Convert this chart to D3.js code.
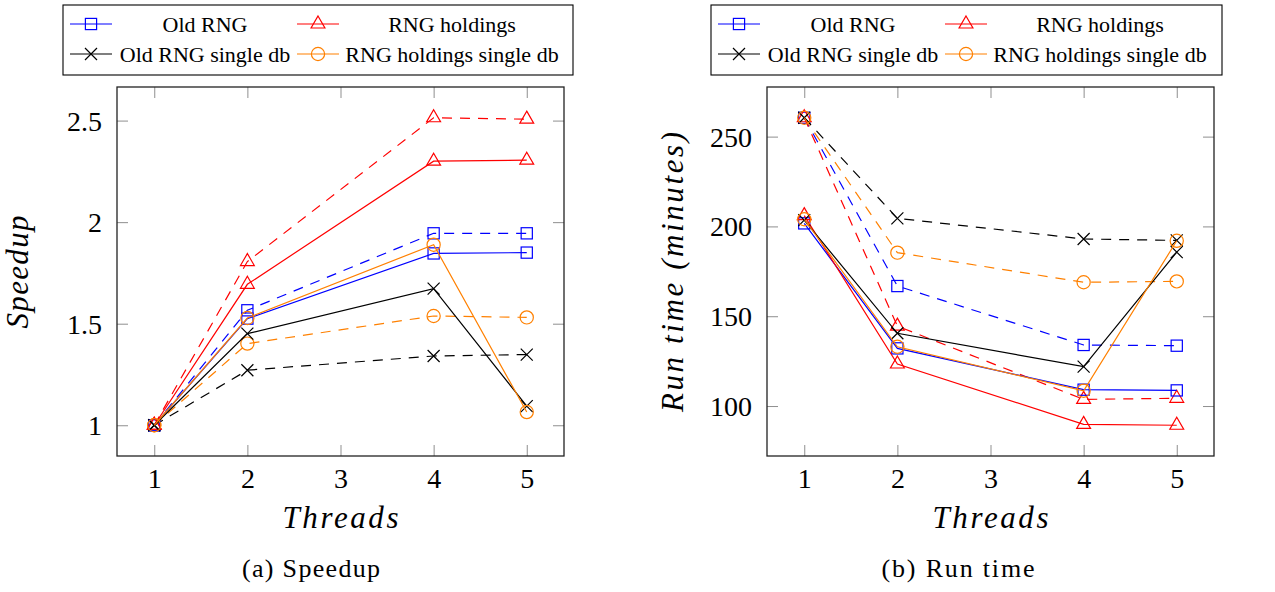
<!DOCTYPE html>
<html>
<head>
<meta charset="utf-8">
<script src="https://cdn.jsdelivr.net/npm/d3@7"></script>
<style>
  body { margin: 0; background: #fff; }
  svg { display: block; }
  text { font-family: "Liberation Serif", "Times New Roman", serif; }
</style>
</head>
<body>
<svg id="chart" width="1275" height="592"></svg>
<script>
// values
const threads = [1, 2, 4, 5];
const xTickValues = [1, 2, 3, 4, 5];
const speedupTicks = [1, 1.5, 2, 2.5];
const runTimeTicks = [100, 150, 200, 250];

const seriesNames = ["Old RNG", "RNG holdings", "Old RNG single db", "RNG holdings single db"];
const seriesColors = ["#0000ff", "#ff0000", "#000000", "#ff8000"];
const seriesMarkers = ["square", "triangle", "cross", "circle"];

// speedup (solid lines)
const speedupOldRng = [1, 1.525, 1.846, 1.85];
const speedupHoldings = [1, 1.694, 2.3, 2.305];
const speedupOldSingle = [1, 1.451, 1.673, 1.094];
const speedupHoldingsSingle = [1, 1.528, 1.889, 1.065];
// speedup (dashed lines)
const speedupOldRngB = [1, 1.566, 1.945, 1.945];
const speedupHoldingsB = [1, 1.806, 2.514, 2.507];
const speedupOldSingleB = [1, 1.271, 1.341, 1.348];
const speedupHoldingsSingleB = [1, 1.402, 1.538, 1.531];

// run time in minutes (solid lines)
const runOldRng = [201.7, 132.1, 109.1, 108.7];
const runHoldings = [206, 123.4, 89.8, 89.3];
const runOldSingle = [203.5, 140.5, 121.9, 185.7];
const runHoldingsSingle = [204, 133, 108.5, 192];
// run time in minutes (dashed lines)
const runOldRngB = [260.5, 166.8, 134, 133.6];
const runHoldingsB = [260.5, 144.5, 103.7, 104.3];
const runOldSingleB = [260.5, 204.5, 193, 192.2];
const runHoldingsSingleB = [260.5, 185.4, 168.9, 169.4];

const svg = d3.select("#chart");
const serif = "Liberation Serif";
const plotTop = 87;
const plotBottom = 456;

const panels = [
  {
    left: 117, right: 564, legendLeft: 63, legendRight: 573,
    yLabel: "Speedup", yLabelX: 28, yLabelLen: 113,
    yTicks: speedupTicks, yFormat: d3.format("~g"),
    solid: [speedupOldRng, speedupHoldings, speedupOldSingle, speedupHoldingsSingle],
    dashed: [speedupOldRngB, speedupHoldingsB, speedupOldSingleB, speedupHoldingsSingleB],
    caption: "(a) Speedup", captionX: 311, captionLen: 138
  },
  {
    left: 767, right: 1214, legendLeft: 711, legendRight: 1222,
    yLabel: "Run time (minutes)", yLabelX: 683, yLabelLen: 280,
    yTicks: runTimeTicks, yFormat: d3.format("d"),
    solid: [runOldRng, runHoldings, runOldSingle, runHoldingsSingle],
    dashed: [runOldRngB, runHoldingsB, runOldSingleB, runHoldingsSingleB],
    caption: "(b) Run time", captionX: 958, captionLen: 153
  }
];

// hollow pgfplots-style marks
function addMarker(g, type, color, cx, cy) {
  let m;
  if (type === "square") {
    m = g.append("rect").attr("x", cx - 5.6).attr("y", cy - 5.6).attr("width", 11.2).attr("height", 11.2);
  } else if (type === "triangle") {
    const r = 8;
    m = g.append("path").attr("d", `M${cx},${cy - r}L${cx + r * 0.866},${cy + r / 2}L${cx - r * 0.866},${cy + r / 2}Z`);
  } else if (type === "circle") {
    m = g.append("circle").attr("cx", cx).attr("cy", cy).attr("r", 6.6);
  } else {
    const h = 6;
    m = g.append("path").attr("d", `M${cx - h},${cy - h}L${cx + h},${cy + h}M${cx + h},${cy - h}L${cx - h},${cy + h}`);
  }
  m.attr("fill", "none").attr("stroke", color).attr("stroke-width", 1.2);
}

function drawPanel(p) {
  const all = p.solid.concat(p.dashed).flat();
  const yMin = d3.min(all), yMax = d3.max(all);
  const ySpan = yMax - yMin;
  const xSpan = threads[threads.length - 1] - threads[0];

  // pgfplots enlarges limits by 10%
  const x = d3.scaleLinear()
    .domain([threads[0] - 0.1 * xSpan, threads[threads.length - 1] + 0.1 * xSpan])
    .range([p.left, p.right]);
  const y = d3.scaleLinear()
    .domain([yMin - 0.1 * ySpan, yMax + 0.1 * ySpan])
    .range([plotBottom, plotTop]);

  const g = svg.append("g");

  // inward ticks on all four sides
  const bottomAxis = g.append("g")
    .attr("transform", `translate(0,${plotBottom})`)
    .call(d3.axisBottom(x).tickValues(xTickValues).tickSize(-11).tickPadding(12).tickFormat(d3.format("d")));
  const topAxis = g.append("g")
    .attr("transform", `translate(0,${plotTop})`)
    .call(d3.axisTop(x).tickValues(xTickValues).tickSize(-11).tickFormat(""));
  const leftAxis = g.append("g")
    .attr("transform", `translate(${p.left},0)`)
    .call(d3.axisLeft(y).tickValues(p.yTicks).tickSize(-11).tickPadding(15).tickFormat(p.yFormat));
  const rightAxis = g.append("g")
    .attr("transform", `translate(${p.right},0)`)
    .call(d3.axisRight(y).tickValues(p.yTicks).tickSize(-11).tickFormat(""));

  [bottomAxis, topAxis, leftAxis, rightAxis].forEach(a => {
    a.attr("font-family", serif).attr("font-size", 28);
    a.select(".domain").remove();
    a.selectAll(".tick line").attr("stroke", "#8f8f8f").attr("stroke-width", 1);
    a.selectAll(".tick text").attr("fill", "#000").attr("font-family", serif);
  });
  leftAxis.selectAll(".tick text").attr("dy", "0.34em");

  // series
  const line = d3.line()
    .x((d, i) => x(threads[i]))
    .y(d => y(d));

  function drawSeries(values, k, dashed) {
    const s = g.append("g");
    s.append("path")
      .attr("d", line(values))
      .attr("fill", "none")
      .attr("stroke", seriesColors[k])
      .attr("stroke-width", 1.2)
      .attr("stroke-dasharray", dashed ? "10,8" : null);
    values.forEach((v, i) => addMarker(s, seriesMarkers[k], seriesColors[k], x(threads[i]), y(v)));
  }
  p.dashed.forEach((v, k) => drawSeries(v, k, true));
  p.solid.forEach((v, k) => drawSeries(v, k, false));

  // frame
  g.append("rect")
    .attr("x", p.left)
    .attr("y", plotTop)
    .attr("width", p.right - p.left)
    .attr("height", plotBottom - plotTop)
    .attr("fill", "none")
    .attr("stroke", "#222")
    .attr("stroke-width", 1.3);

  // axis labels
  g.append("text")
    .attr("x", (p.left + p.right) / 2)
    .attr("y", 528)
    .attr("text-anchor", "middle")
    .attr("font-family", serif)
    .attr("font-size", 31)
    .attr("font-style", "italic")
    .attr("textLength", 116)
    .attr("lengthAdjust", "spacing")
    .text("Threads");

  g.append("text")
    .attr("transform", `translate(${p.yLabelX},272)rotate(-90)`)
    .attr("text-anchor", "middle")
    .attr("font-family", serif)
    .attr("font-size", 31)
    .attr("font-style", "italic")
    .attr("textLength", p.yLabelLen)
    .attr("lengthAdjust", "spacing")
    .text(p.yLabel);

  // caption
  g.append("text")
    .attr("x", p.captionX)
    .attr("y", 577)
    .attr("text-anchor", "middle")
    .attr("font-family", serif)
    .attr("font-size", 26)
    .attr("textLength", p.captionLen)
    .attr("lengthAdjust", "spacing")
    .text(p.caption);

  // legend
  const legend = g.append("g").attr("transform", `translate(${p.legendLeft},5)`);
  legend.append("rect")
    .attr("width", p.legendRight - p.legendLeft)
    .attr("height", 70)
    .attr("fill", "#fff")
    .attr("stroke", "#000")
    .attr("stroke-width", 1.1);

  const symX = [7, 234];
  const textX = [142, 389];
  const rowY = [19, 49];
  seriesNames.forEach((name, k) => {
    const col = k % 2, row = Math.floor(k / 2);
    legend.append("line")
      .attr("x1", symX[col]).attr("x2", symX[col] + 42)
      .attr("y1", rowY[row]).attr("y2", rowY[row])
      .attr("stroke", seriesColors[k])
      .attr("stroke-width", 1.2);
    addMarker(legend, seriesMarkers[k], seriesColors[k], symX[col] + 21, rowY[row]);
    legend.append("text")
      .attr("x", textX[col])
      .attr("y", rowY[row] + 7.5)
      .attr("text-anchor", "middle")
      .attr("font-family", serif)
      .attr("font-size", 22)
      .text(name);
  });
}

panels.forEach(drawPanel);
</script>
</body>
</html>
